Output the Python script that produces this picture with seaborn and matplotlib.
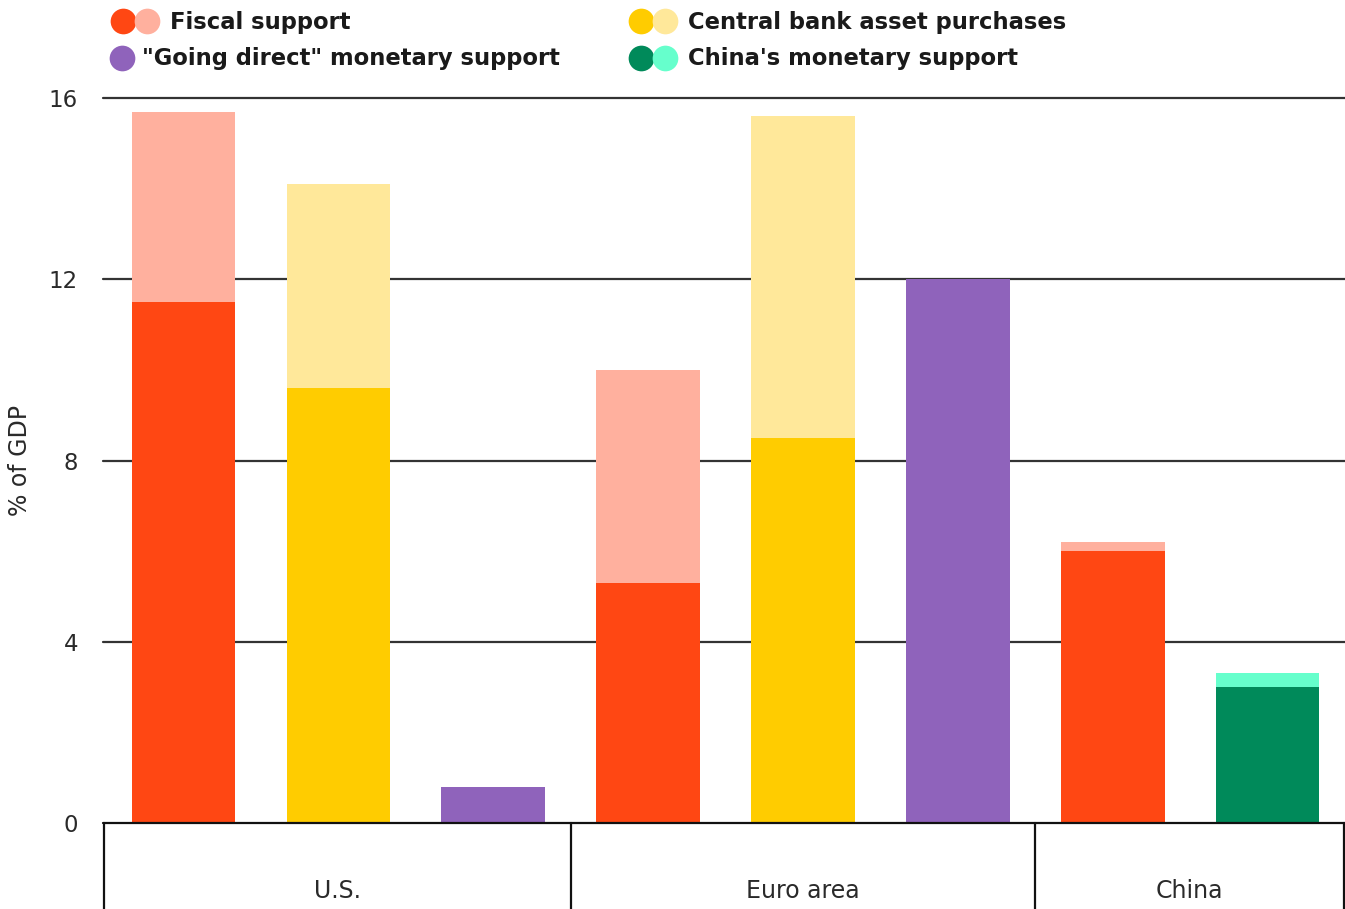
import matplotlib
matplotlib.use("Agg")
import matplotlib.pyplot as plt
import matplotlib.transforms as mtransforms
from matplotlib.lines import Line2D
from matplotlib.legend_handler import HandlerTuple
import seaborn as sns
import pandas as pd

# ---- data ----
slots = ["U.S. fiscal", "U.S. CB", "U.S. direct",
         "Euro fiscal", "Euro CB", "Euro direct",
         "China fiscal", "China monetary"]
dark_values = [11.5, 9.6, 0.8, 5.3, 8.5, 12.0, 6.0, 3.0]
total_values = [15.7, 14.1, 0.8, 10.0, 15.6, 12.0, 6.2, 3.3]
groups = ["U.S.", "Euro area", "China"]
group_sizes = [3, 3, 2]
series_names = ["Fiscal support", "\"Going direct\" monetary support",
                "Central bank asset purchases", "China's monetary support"]
yticks = [0, 4, 8, 12, 16]

# ---- styles ----
FISCAL_D, FISCAL_L = "#FF4713", "#FFB09E"
CB_D, CB_L = "#FFCC00", "#FFE89A"
PURPLE = "#8F63BB"
CHN_D, CHN_L = "#008A5A", "#66FFCC"
dark_cols = [FISCAL_D, CB_D, PURPLE, FISCAL_D, CB_D, PURPLE, FISCAL_D, CHN_D]
light_cols = [FISCAL_L, CB_L, PURPLE, FISCAL_L, CB_L, PURPLE, FISCAL_L, CHN_L]

sns.set_theme(style="white")
plt.rcParams["font.family"] = ["DejaVu Sans"]

df = pd.DataFrame({"slot": slots, "dark": dark_values, "total": total_values})

W, H = 1345, 909
fig = plt.figure(figsize=(W / 100, H / 100), dpi=100)
ax = fig.add_axes([103 / W, 1 - 823 / H, 1 - 103 / W, (823 - 98) / H])

sns.barplot(data=df, x="slot", y="total", hue="slot", order=slots, hue_order=slots,
            palette=dict(zip(slots, light_cols)), width=0.67, legend=False,
            saturation=1, ax=ax, zorder=3, linewidth=0)
sns.barplot(data=df, x="slot", y="dark", hue="slot", order=slots, hue_order=slots,
            palette=dict(zip(slots, dark_cols)), width=0.67, legend=False,
            saturation=1, ax=ax, zorder=4, linewidth=0)

ax.set_xlim(-0.52, 7.5)
ax.set_ylim(0, 16)
ax.set_yticks(yticks)
ax.set_yticklabels([str(t) for t in yticks], fontsize=16.5, color="#2a2a2a")
ax.tick_params(axis="y", length=0, pad=18)
ax.set_xticks([])
ax.set_xlabel("")
ax.set_ylabel("% of GDP", fontsize=17, color="#2a2a2a", labelpad=12)
for s in ax.spines.values():
    s.set_visible(False)
for t in yticks[1:]:
    ax.axhline(t, color="#333333", lw=1.6, zorder=1, clip_on=False)

# group box below axis
trans = mtransforms.blended_transform_factory(ax.transData, ax.transAxes)
ax.plot([-0.52, 7.5], [0, 0], transform=trans, color="#111111", lw=1.6,
        clip_on=False, zorder=5)
edges = [-0.515]
pos = -0.5
for n in group_sizes:
    pos += n
    edges.append(pos)
edges[-1] = 7.495
for e in edges:
    ax.plot([e, e], [0, -0.2], transform=trans, color="#111111", lw=1.6,
            clip_on=False, zorder=5)
for i, g in enumerate(groups):
    cx = (edges[i] + edges[i + 1]) / 2
    ax.text(cx, -0.094, g, transform=trans, ha="center", va="center",
            fontsize=17, color="#2a2a2a")

# legend (one small legend per entry so that handle widths can differ)
FS = 16.3
FSPX = FS * 100 / 72


def dot(c):
    return Line2D([], [], marker="o", linestyle="none", markersize=18.5,
                  markerfacecolor=c, markeredgecolor="none")


entries = [
    ((dot(FISCAL_D), dot(FISCAL_L)), series_names[0], 110, 22, 50, 10),
    ((dot(PURPLE),), series_names[1], 109, 59, 25, 8),
    ((dot(CB_D), dot(CB_L)), series_names[2], 628, 22, 50, 10),
    ((dot(CHN_D), dot(CHN_L)), series_names[3], 628, 59, 50, 10),
]
for handle, label, x0, yc, hw, gap in entries:
    leg = fig.legend([handle], [label], loc="center left",
                     bbox_to_anchor=(x0 / W, 1 - yc / H),
                     handler_map={tuple: HandlerTuple(ndivide=None, pad=-2 / FSPX)},
                     frameon=False, prop={"size": FS, "weight": "bold"},
                     handlelength=hw / FSPX, handletextpad=gap / FSPX,
                     borderpad=0, borderaxespad=0)
    for t in leg.get_texts():
        t.set_color("#1a1a1a")

fig.savefig("out.png", dpi=100)
